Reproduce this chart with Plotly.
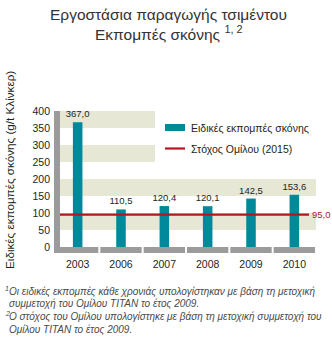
import plotly.graph_objects as go

# ---- data ----
years = ["2003", "2006", "2007", "2008", "2009", "2010"]
emissions = [367.0, 110.5, 120.4, 120.1, 142.5, 153.6]
target_value = 95.0
y_ticks = [0, 50, 100, 150, 200, 250, 300, 350, 400]
band_ranges_full = [(50, 100), (150, 200)]
band_ranges_left = [(250, 300), (350, 400)]

title_line1 = "Εργοστάσια παραγωγής τσιμέντου"
title_line2 = "Εκπομπές σκόνης"
y_title = "Ειδικές εκπομπές σκόνης (g/t Κλίνκερ)"
legend_bar = "Ειδικές εκπομπές σκόνης"
legend_line = "Στόχος Ομίλου (2015)"
foot1 = ["Οι ειδικές εκπομπές κάθε χρονιάς υπολογίστηκαν με βάση τη μετοχική",
         "συμμετοχή του Ομίλου ΤΙΤΑΝ το έτος 2009."]
foot2 = ["Ο στόχος του Ομίλου υπολογίστηκε με βάση τη μετοχική συμμετοχή του",
         "Ομίλου ΤΙΤΑΝ το έτος 2009."]

def fmt(v):
    return f"{v:.1f}".replace(".", ",")

# ---- geometry ----
W, H = 332, 344
L, R, T, B = 56, 16, 111, 97
PW, PH = W - L - R, H - T - B

def px(x):
    return (x - L) / PW

def py(y):
    return (H - B - y) / PH

TEAL = "#00899b"
RED = "#b3171f"
BAND = "#e7e7d5"
GREY = "#9b9b9b"
TXT = "#231f20"
FONT = "Liberation Sans, Arial, sans-serif"

fig = go.Figure()
fig.add_trace(go.Bar(
    x=years, y=emissions, marker_color=TEAL, marker_line_width=0,
    text=[fmt(v) for v in emissions], textposition="outside", constraintext="none",
    textfont=dict(family=FONT, size=9.5, color=TXT),
    cliponaxis=False, showlegend=False,
))

shapes = []
for y0, y1 in band_ranges_full:
    shapes.append(dict(type="rect", xref="paper", yref="y", x0=0, x1=1, y0=y0, y1=y1,
                       fillcolor=BAND, line_width=0, layer="below"))
for y0, y1 in band_ranges_left:
    shapes.append(dict(type="rect", xref="paper", yref="y", x0=0, x1=px(155), y0=y0, y1=y1,
                       fillcolor=BAND, line_width=0, layer="below"))
# target line
shapes.append(dict(type="line", xref="paper", yref="y", x0=px(58), x1=px(309), y0=target_value,
                   y1=target_value, line=dict(color=RED, width=2.2), layer="above"))
# left grey axis bar
shapes.append(dict(type="rect", xref="paper", yref="paper", x0=px(54), x1=px(60),
                   y0=py(253), y1=1, fillcolor=GREY, line_width=0, layer="above"))
# bottom grey segments
n = len(years)
cw = PW / n
for i in range(n):
    a = L + i * cw + (1 if i > 0 else -2)
    b = L + (i + 1) * cw - 1
    shapes.append(dict(type="rect", xref="paper", yref="paper", x0=px(a), x1=px(b),
                       y0=py(253), y1=py(247), fillcolor=GREY, line_width=0, layer="above"))
# legend symbols
shapes.append(dict(type="rect", xref="paper", yref="paper", x0=px(165), x1=px(185),
                   y0=py(131), y1=py(124), fillcolor=TEAL, line_width=0))
shapes.append(dict(type="line", xref="paper", yref="paper", x0=px(165), x1=px(185),
                   y0=py(148.5), y1=py(148.5), line=dict(color=RED, width=2.2)))

ann = []
ann.append(dict(text=fmt(target_value), xref="paper", yref="paper", x=px(310), y=py(214.5),
                xanchor="left", yanchor="middle", showarrow=False,
                font=dict(family=FONT, size=9.5, color=RED)))
ann.append(dict(text=legend_bar, xref="paper", yref="paper", x=px(189), y=py(127.5),
                xanchor="left", yanchor="middle", showarrow=False,
                font=dict(family=FONT, size=10.5, color=TXT)))
ann.append(dict(text=legend_line, xref="paper", yref="paper", x=px(189), y=py(148.5),
                xanchor="left", yanchor="middle", showarrow=False,
                font=dict(family=FONT, size=10.5, color=TXT)))
# titles
ann.append(dict(text=title_line1, xref="paper", yref="paper", x=px(168), y=py(14),
                xanchor="center", yanchor="middle", showarrow=False,
                font=dict(family=FONT, size=15.5, color="#333333")))
ann.append(dict(text=title_line2 + " <sup>1, 2</sup>", xref="paper", yref="paper", x=px(168), y=py(33),
                xanchor="center", yanchor="middle", showarrow=False,
                font=dict(family=FONT, size=15.5, color="#333333")))
# y-axis title
ann.append(dict(text=y_title, xref="paper", yref="paper", x=px(9), y=py(170),
                xanchor="center", yanchor="middle", textangle=-90, showarrow=False,
                font=dict(family=FONT, size=11.7, color=TXT)))
# footnotes
FOOT = dict(family=FONT, size=10, color="#4a4a4a")
rows = [(1, foot1[0], 291), (None, foot1[1], 303.5), (2, foot2[0], 316.5), (None, foot2[1], 329)]
for num, line, yc in rows:
    if num is not None:
        ann.append(dict(text=f"<i>{num}</i>", xref="paper", yref="paper", x=px(3), y=py(yc - 3),
                        xanchor="left", yanchor="middle", showarrow=False,
                        font=dict(family=FONT, size=7, color="#4a4a4a")))
    ann.append(dict(text=f"<i>{line}</i>", xref="paper", yref="paper", x=px(7), y=py(yc),
                    xanchor="left", yanchor="middle", showarrow=False, font=FOOT))

fig.update_layout(
    width=W, height=H, margin=dict(l=L, r=R, t=T, b=B, pad=0),
    paper_bgcolor="white", plot_bgcolor="white",
    bargap=0.78, showlegend=False, shapes=shapes, annotations=ann,
    xaxis=dict(type="category", showgrid=False, zeroline=False, showline=False, ticks="",
               tickfont=dict(family=FONT, size=10.5, color=TXT), ticklabelstandoff=9,
               range=[-0.5, n - 0.5], fixedrange=True),
    yaxis=dict(range=[0, 400], tickvals=y_ticks, showgrid=False, zeroline=False, showline=False,
               ticks="", tickfont=dict(family=FONT, size=10.5, color=TXT), ticklabelstandoff=5,
               fixedrange=True),
)
fig.write_html("out.html")
